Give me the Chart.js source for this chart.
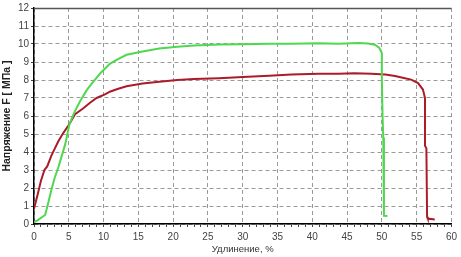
<!DOCTYPE html>
<html><head><meta charset="utf-8">
<script src="https://cdn.jsdelivr.net/npm/chart.js@4/dist/chart.umd.min.js"></script>
<style>html,body{margin:0;padding:0;background:#fff}#wrap{width:461px;height:257px}</style>
</head><body><div id="wrap"><canvas id="c" width="461" height="257"></canvas></div>
<script>
const xTitle = 'Удлинение, %';
const yTitle = 'Напряжение F [ МПа ]';
const xTickLabels = ['0','5','10','15','20','25','30','35','40','45','50','55','60'];
const yTickLabels = ['0','1','2','3','4','5','6','7','8','9','10','11','12'];

const greenX = [0,0.5,1.6,2.0,2.5,3.0,3.5,4.0,4.5,5.1,5.8,6.6,7.6,8.5,9.6,10.9,12,13.3,15.6,18,20.6,23,26.6,30,33.8,37,40.9,43.8,46.6,48,49,49.6,50.0,50.0,50.1,50.2,50.3,50.3,50.8];
const greenY = [0.1,0.2,0.5,1.1,1.9,2.6,3.15,3.8,4.45,5.55,6.2,6.8,7.45,7.9,8.4,8.9,9.15,9.4,9.58,9.75,9.85,9.92,9.97,9.99,10.01,10.02,10.04,10.02,10.05,10.03,9.96,9.8,9.5,8.0,6.0,4.8,3.0,0.46,0.45];

const redX = [0,0.5,1.0,1.5,1.9,2.5,3.0,3.5,4.2,5.0,5.9,7,8.1,9,10.2,10.9,12,13.3,15.6,18,20.6,23,26.6,30,33.8,37,40.9,43.8,46,48.5,50.5,51.9,53,54.2,55.2,55.9,56.2,56.2,56.4,56.5,56.6,57.6];
const redY = [0.85,1.6,2.4,3.0,3.2,3.8,4.2,4.6,5.05,5.5,6.1,6.4,6.75,7.0,7.2,7.35,7.5,7.65,7.8,7.9,8.0,8.05,8.1,8.17,8.24,8.3,8.35,8.35,8.37,8.35,8.3,8.22,8.13,8.02,7.83,7.47,7.0,4.35,4.2,0.4,0.3,0.25];

const toPts = (xs, ys) => xs.map((x, i) => ({x, y: ys[i]}));

const topLine = {
  id: 'topLine',
  afterDatasetsDraw(chart) {
    const {ctx, chartArea: a} = chart;
    ctx.save();
    ctx.strokeStyle = '#555';
    ctx.lineWidth = 1.5;
    ctx.beginPath();
    ctx.moveTo(a.left, a.top + 0.5);
    ctx.lineTo(a.right, a.top + 0.5);
    ctx.stroke();
    ctx.restore();
  }
};

new Chart(document.getElementById('c'), {
  type: 'line',
  data: {
    datasets: [
      {data: toPts(greenX, greenY), borderColor: 'rgb(80,215,80)', borderWidth: 2, pointRadius: 0, tension: 0},
      {data: toPts(redX, redY), borderColor: 'rgb(170,28,40)', borderWidth: 2, pointRadius: 0, tension: 0}
    ]
  },
  options: {
    responsive: false,
    animation: false,
    events: [],
    layout: {padding: {top: 6, right: 7, left: 0, bottom: 0}},
    plugins: {legend: {display: false}, tooltip: {enabled: false}},
    scales: {
      x: {
        type: 'linear', min: 0, max: 60,
        afterFit(s) { s.height = 33; },
        ticks: {
          stepSize: 1, autoSkip: false, maxRotation: 0, padding: 4,
          color: '#444', font: {family: 'Liberation Sans', size: 10},
          callback: (v) => (v % 5 === 0 ? xTickLabels[v / 5] : '')
        },
        grid: {
          color: (c) => (c.tick && c.tick.value % 5 === 0 ? '#9a9a9a' : 'rgba(0,0,0,0)'),
          lineWidth: 1, tickLength: 3, tickColor: '#444'
        },
        border: {display: true, color: '#000', width: 1.5, dash: [4, 3]},
        title: {display: true, text: xTitle, color: '#333', font: {family: 'Liberation Sans', size: 9.5}, padding: {top: 0, bottom: 2}}
      },
      y: {
        min: 0, max: 12,
        afterFit(s) { s.width = 34; },
        ticks: {
          stepSize: 1, padding: 2, color: '#444', font: {family: 'Liberation Sans', size: 10},
          callback: (v) => yTickLabels[v]
        },
        grid: {color: '#9a9a9a', lineWidth: 1, tickLength: 3, tickColor: '#444'},
        border: {display: true, color: '#000', width: 1.5, dash: [4, 3]},
        title: {display: true, text: yTitle, color: '#222', font: {family: 'Liberation Sans', size: 10.5, weight: 'bold'}, padding: {top: 1, bottom: 0}}
      }
    }
  },
  plugins: [topLine]
});
</script>
</body></html>
